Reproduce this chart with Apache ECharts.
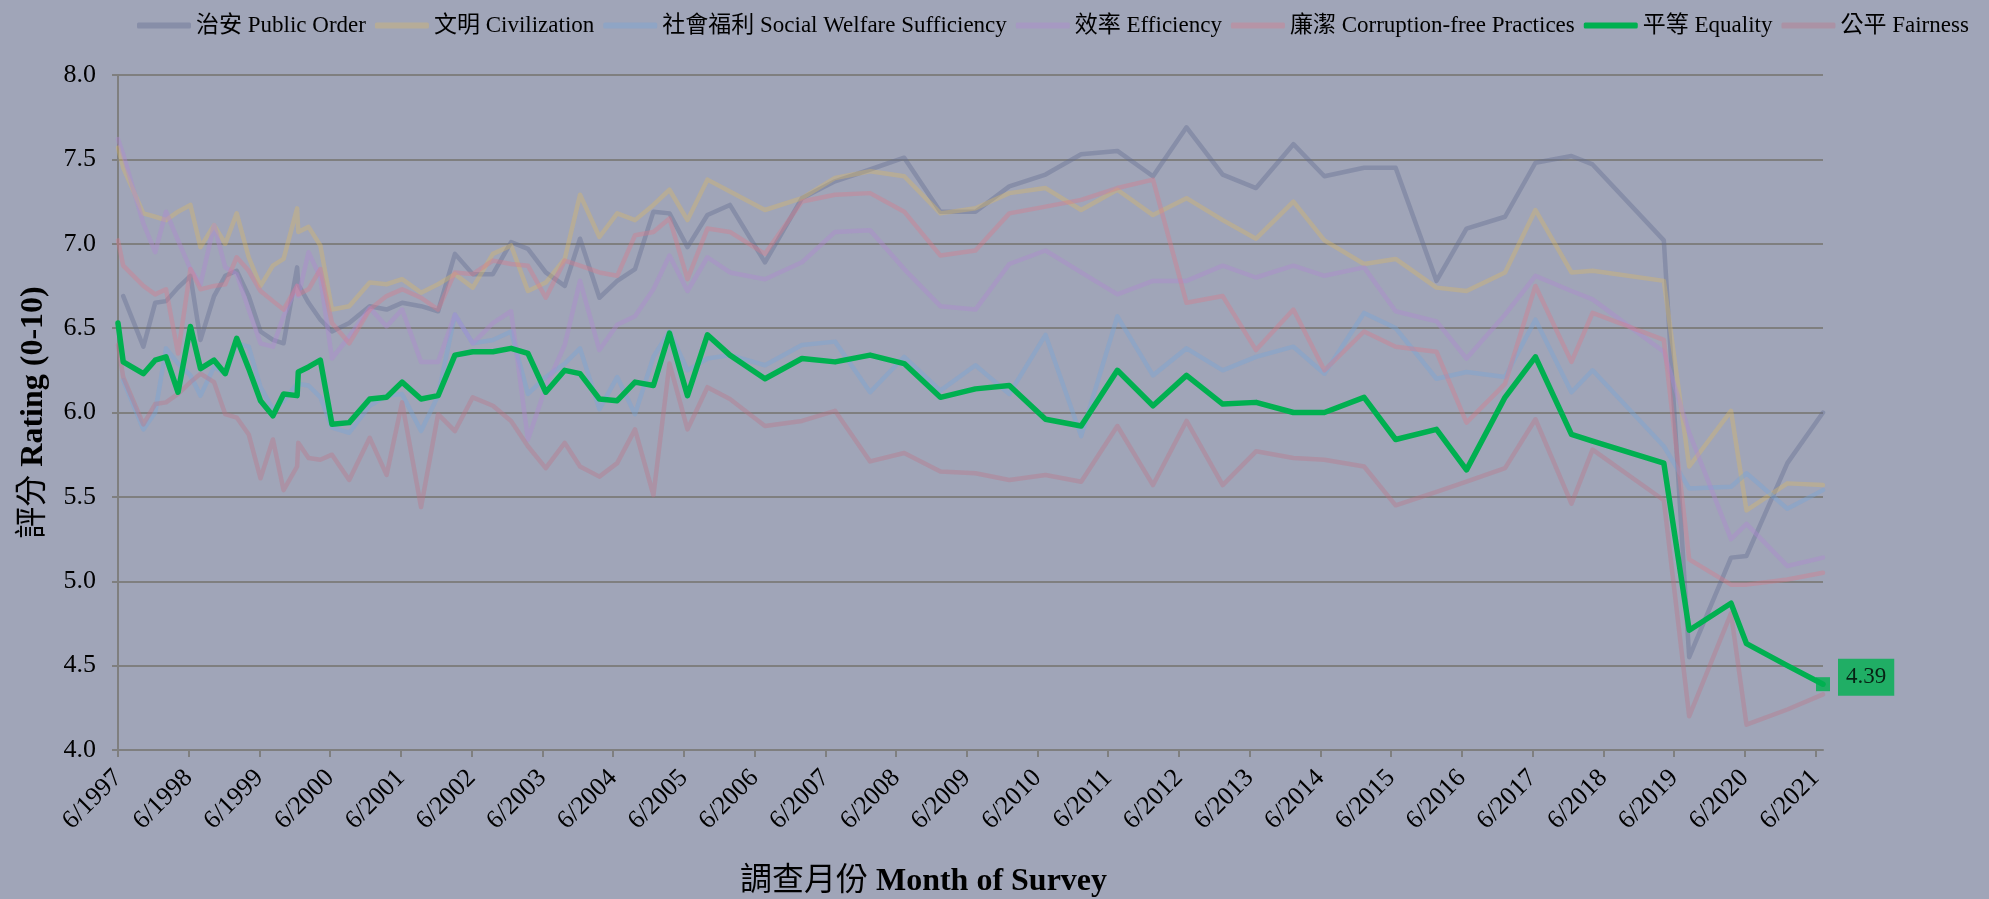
<!DOCTYPE html>
<html lang="zh-Hant">
<head>
    <meta charset="UTF-8">
    <title>Core Social Indicators</title>
    <script src="https://cdn.jsdelivr.net/npm/echarts@6/dist/echarts.min.js"></script>
    <style>
        body { margin: 0; padding: 0; background-color: #A0A5B8; }
        #chart { width: 1989px; height: 899px; }
    </style>
</head>
<body>
    <div id="chart"></div>
    <script>
        // survey dates (x) and ratings per indicator
        const surveyDates = [
            '1997-06-01','1997-06-28','1997-10-10','1997-12-10','1998-02-04','1998-04-07','1998-06-10','1998-08-01','1998-10-10','1998-12-07',
            '1999-02-04','1999-04-07','1999-06-07','1999-08-10','1999-10-04','1999-12-13','1999-12-19','2000-02-10','2000-04-11','2000-06-10',
            '2000-09-07','2000-12-22','2001-03-19','2001-06-07','2001-09-13','2001-12-10','2002-03-07','2002-06-07','2002-09-19','2002-12-22',
            '2003-03-19','2003-06-19','2003-09-25','2003-12-13','2004-03-22','2004-06-22','2004-09-22','2004-12-26','2005-03-19','2005-06-20',
            '2005-10-01','2006-01-25','2006-07-25','2007-02-01','2007-07-22','2008-01-19','2008-07-13','2009-01-16','2009-07-16','2010-01-07',
            '2010-07-13','2011-01-13','2011-07-19','2012-01-19','2012-07-10','2013-01-13','2013-07-04','2014-01-13','2014-06-22','2015-01-13',
            '2015-06-25','2016-01-22','2016-06-25','2017-01-10','2017-06-16','2017-12-19','2018-04-07','2019-04-10','2019-08-19','2020-03-22',
            '2020-06-10','2021-01-07','2021-07-10'
        ];

        const publicOrder = [
            null,6.69,6.39,6.65,6.66,6.74,6.81,6.43,6.69,6.81,
            6.84,6.69,6.48,6.43,6.41,6.86,6.76,6.65,6.55,6.48,
            6.53,6.63,6.61,6.65,6.63,6.60,6.94,6.82,6.82,7.01,
            6.97,6.83,6.75,7.03,6.68,6.78,6.85,7.19,7.18,6.98,
            7.17,7.23,6.89,7.27,7.37,7.44,7.51,7.19,7.19,7.34,
            7.41,7.53,7.55,7.40,7.69,7.41,7.33,7.59,7.40,7.45,
            7.45,6.78,7.09,7.16,7.48,7.52,7.47,7.02,4.55,5.14,
            5.15,5.70,6.00
        ];
        const civilization = [
            7.57,7.45,7.18,7.16,7.14,7.19,7.23,6.98,7.11,7.00,
            7.18,6.92,6.75,6.87,6.91,7.21,7.07,7.10,6.99,6.61,
            6.63,6.77,6.76,6.79,6.71,6.76,6.82,6.74,6.94,6.99,
            6.72,6.77,6.91,7.29,7.04,7.18,7.14,7.23,7.32,7.14,
            7.38,7.31,7.20,7.27,7.39,7.43,7.40,7.18,7.21,7.30,
            7.33,7.20,7.32,7.17,7.27,7.14,7.03,7.25,7.02,6.88,
            6.91,6.74,6.72,6.83,7.20,6.83,6.84,6.78,5.68,6.01,
            5.42,5.58,5.57
        ];
        const socialWelfare = [
            null,6.19,5.90,6.00,6.38,6.29,6.22,6.10,6.27,6.23,
            6.41,6.39,6.15,6.02,6.07,6.17,6.16,6.16,6.09,5.91,
            5.88,6.04,6.10,6.11,5.89,6.10,6.58,6.41,6.43,6.48,
            6.11,6.21,6.29,6.38,6.02,6.21,5.99,6.33,6.48,6.25,
            6.32,6.34,6.28,6.40,6.42,6.12,6.33,6.13,6.28,6.11,
            6.46,5.86,6.57,6.22,6.38,6.25,6.33,6.39,6.23,6.59,
            6.50,6.20,6.24,6.21,6.55,6.12,6.25,5.80,5.55,5.56,
            5.64,5.43,5.54
        ];
        const efficiency = [
            7.62,7.53,7.12,6.95,7.19,7.02,6.85,6.76,7.11,6.86,
            6.82,6.61,6.41,6.39,6.57,6.75,6.69,6.95,6.80,6.32,
            6.45,6.62,6.51,6.61,6.30,6.30,6.58,6.41,6.53,6.60,
            5.84,6.15,6.40,6.78,6.37,6.52,6.57,6.73,6.93,6.72,
            6.92,6.83,6.79,6.89,7.07,7.08,6.85,6.63,6.61,6.88,
            6.96,6.83,6.70,6.78,6.78,6.87,6.80,6.87,6.81,6.86,
            6.60,6.54,6.32,6.58,6.81,6.72,6.67,6.36,5.88,5.25,
            5.34,5.09,5.14
        ];
        const corruptionFree = [
            7.02,6.87,6.75,6.70,6.73,6.35,6.85,6.73,6.75,6.76,
            6.92,6.84,6.72,6.66,6.61,6.75,6.70,6.73,6.85,6.53,
            6.41,6.61,6.69,6.73,6.68,6.61,6.83,6.82,6.90,6.88,
            6.87,6.68,6.90,6.87,6.83,6.81,7.05,7.07,7.15,6.79,
            7.09,7.07,6.94,7.25,7.29,7.30,7.19,6.93,6.96,7.18,
            7.22,7.26,7.33,7.38,6.65,6.69,6.37,6.61,6.25,6.48,
            6.39,6.36,5.94,6.17,6.75,6.30,6.59,6.43,5.13,4.98,
            4.98,5.01,5.05
        ];
        const equality = [
            6.53,6.30,6.23,6.31,6.33,6.12,6.51,6.26,6.31,6.23,
            6.44,6.26,6.07,5.98,6.11,6.10,6.24,6.27,6.31,5.93,
            5.94,6.08,6.09,6.18,6.08,6.10,6.34,6.36,6.36,6.38,
            6.35,6.12,6.25,6.23,6.08,6.07,6.18,6.16,6.47,6.10,
            6.46,6.34,6.20,6.32,6.30,6.34,6.29,6.09,6.14,6.16,
            5.96,5.92,6.25,6.04,6.22,6.05,6.06,6.00,6.00,6.09,
            5.84,5.90,5.66,6.09,6.33,5.87,5.83,5.70,4.71,4.87,
            4.63,4.50,4.39
        ];
        const fairness = [
            6.40,6.21,5.93,6.05,6.06,6.11,6.18,6.23,6.18,5.99,
            5.97,5.87,5.61,5.84,5.54,5.68,5.82,5.73,5.72,5.75,
            5.60,5.85,5.63,6.06,5.44,5.99,5.89,6.09,6.04,5.95,
            5.80,5.67,5.82,5.68,5.62,5.70,5.90,5.51,6.29,5.90,
            6.15,6.08,5.92,5.95,6.01,5.71,5.76,5.65,5.64,5.60,
            5.63,5.59,5.92,5.57,5.95,5.57,5.77,5.73,5.72,5.68,
            5.45,5.53,5.59,5.67,5.96,5.46,5.78,5.48,4.20,4.81,
            4.15,4.24,4.33
        ];

        const tickYears = [1997,1998,1999,2000,2001,2002,2003,2004,2005,2006,2007,2008,2009,2010,2011,2012,2013,2014,2015,2016,2017,2018,2019,2020,2021];

        const indicators = [
            { name: '治安 Public Order', values: publicOrder, color: 'rgba(97,108,144,0.4)' },
            { name: '文明 Civilization', values: civilization, color: 'rgba(217,185,101,0.38)' },
            { name: '社會福利 Social Welfare Sufficiency', values: socialWelfare, color: 'rgba(120,165,215,0.42)' },
            { name: '效率 Efficiency', values: efficiency, color: 'rgba(175,135,210,0.4)' },
            { name: '廉潔 Corruption-free Practices', values: corruptionFree, color: 'rgba(217,122,138,0.38)' },
            { name: '平等 Equality', values: equality, color: '#00B050', highlight: true },
            { name: '公平 Fairness', values: fairness, color: 'rgba(189,116,133,0.38)' }
        ];

        const serifFont = '"Liberation Serif", "Times New Roman", "Noto Sans CJK TC", serif';
        const gridColor = '#7F7F7F';

        // x axis counts months since June 1997
        const DAY = 24 * 3600 * 1000;
        const MONTH = 365.25 / 12 * DAY;
        const origin = Date.UTC(1997, 5, 1);
        function toMonths(dateStr) {
            const p = dateStr.split('-').map(Number);
            return (Date.UTC(p[0], p[1] - 1, p[2]) - origin) / MONTH;
        }
        const xValues = surveyDates.map(toMonths);
        const tickValues = tickYears.map(function (y) { return (y - 1997) * 12; });

        const chart = echarts.init(document.getElementById('chart'));

        const series = indicators.map(function (ind) {
            return {
                name: ind.name,
                type: 'line',
                showSymbol: false,
                symbol: 'none',
                z: ind.highlight ? 5 : 2,
                color: ind.color,
                lineStyle: {
                    width: ind.highlight ? 5.5 : 4.5,
                    color: ind.color,
                    cap: 'round',
                    join: 'round'
                },
                emphasis: { disabled: true },
                data: xValues.map(function (x, i) { return [x, ind.values[i]]; })
            };
        });

        // end marker + value tag for Equality
        const lastIdx = surveyDates.length - 1;
        series.push({
            name: 'equality-last',
            type: 'scatter',
            symbol: 'rect',
            symbolSize: 14,
            z: 6,
            itemStyle: { color: '#00B050' },
            label: {
                show: true,
                position: 'right',
                distance: 8,
                offset: [0, -7],
                formatter: function (p) { return p.value[1].toFixed(2); },
                backgroundColor: '#00B050',
                color: '#000',
                fontFamily: serifFont,
                fontSize: 23,
                padding: [7, 8]
            },
            emphasis: { disabled: true },
            data: [[xValues[lastIdx], equality[lastIdx]]]
        });

        const option = {
            backgroundColor: '#A0A5B8',
            animation: false,
            legend: {
                data: indicators.map(function (ind) { return ind.name; }),
                left: 132,
                top: 9,
                icon: 'roundRect',
                itemWidth: 54,
                itemHeight: 6,
                itemGap: 9,
                textStyle: { fontFamily: serifFont, fontSize: 23, color: '#000' }
            },
            grid: {
                left: 118,
                right: 166,
                top: 75,
                bottom: 149,
                containLabel: false,
                outerBoundsMode: 'none'
            },
            xAxis: {
                type: 'value',
                min: 0,
                max: xValues[lastIdx],
                name: '{c|調查月份}{b|\u00a0Month of Survey}',
                nameLocation: 'middle',
                nameGap: 116,
                nameTextStyle: {
                    padding: [0, 94, 0, 0],
                    rich: {
                        c: { fontFamily: serifFont, fontSize: 32, color: '#000' },
                        b: { fontFamily: serifFont, fontSize: 32, fontWeight: 'bold', color: '#000' }
                    }
                },
                axisLine: { show: true, onZero: false, lineStyle: { color: gridColor, width: 2 } },
                axisTick: { show: true, length: 7, customValues: tickValues, lineStyle: { color: gridColor, width: 2 } },
                splitLine: { show: false },
                axisLabel: {
                    customValues: tickValues,
                    rotate: 45,
                    margin: 24,
                    fontFamily: serifFont,
                    fontSize: 26,
                    color: '#000',
                    formatter: function (v) { return '6/' + Math.round(1997 + v / 12); }
                }
            },
            yAxis: {
                type: 'value',
                min: 4,
                max: 8,
                interval: 0.5,
                name: '{c|評分}{b|\u00a0Rating (0-10)}',
                nameLocation: 'middle',
                nameRotate: 90,
                nameGap: 68,
                nameTextStyle: {
                    rich: {
                        c: { fontFamily: serifFont, fontSize: 32, color: '#000' },
                        b: { fontFamily: serifFont, fontSize: 32, fontWeight: 'bold', color: '#000' }
                    }
                },
                axisLine: { show: true, lineStyle: { color: gridColor, width: 2 } },
                axisTick: { show: true, length: 6, lineStyle: { color: gridColor, width: 2 } },
                splitLine: { show: true, lineStyle: { color: gridColor, width: 2 } },
                axisLabel: {
                    margin: 22,
                    fontFamily: serifFont,
                    fontSize: 26,
                    color: '#000',
                    formatter: function (v) { return v.toFixed(1); }
                }
            },
            series: series
        };

        chart.setOption(option);
    </script>
</body>
</html>
